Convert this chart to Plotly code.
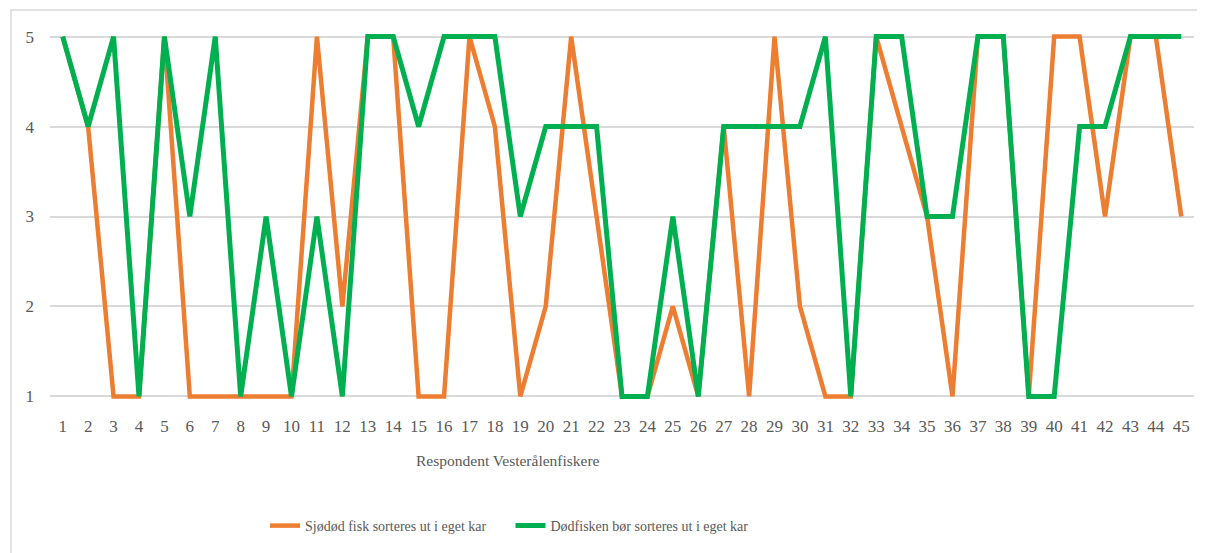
import plotly.graph_objects as go

respondents = list(range(1, 46))
sjodod = [5, 4, 1, 1, 5, 1, 1, 1, 1, 1, 5, 2, 5, 5, 1, 1, 5, 4, 1, 2, 5, 3, 1, 1, 2,
          1, 4, 1, 5, 2, 1, 1, 5, 4, 3, 1, 5, 5, 1, 5, 5, 3, 5, 5, 3]
dodfisk = [5, 4, 5, 1, 5, 3, 5, 1, 3, 1, 3, 1, 5, 5, 4, 5, 5, 5, 3, 4, 4, 4, 1, 1, 3,
           1, 4, 4, 4, 4, 5, 1, 5, 5, 3, 3, 5, 5, 1, 1, 4, 4, 5, 5, 5]
yticks = [1, 2, 3, 4, 5]
name_a = "Sjødød fisk sorteres ut i eget kar"
name_b = "Dødfisken bør sorteres ut i eget kar"
x_title = "Respondent Vesterålenfiskere"

FONT = "Liberation Serif, Times New Roman, serif"
GRAY = "#595959"

# figure is 1197x545 because the page body adds an 8px margin
W, H = 1197, 545
L, T, PW, PH = 42, 25, 1144, 367
R = W - L - PW
B = H - T - PH


def px(xp):
    return (xp - 8 - L) / PW


def py(yp):
    return (T + PH - (yp - 8)) / PH


fig = go.Figure()
fig.add_trace(go.Scatter(x=respondents, y=sjodod, mode="lines", name=name_a,
                         line=dict(color="#ED7D31", width=4.5), legend="legend"))
fig.add_trace(go.Scatter(x=respondents, y=dodfisk, mode="lines", name=name_b,
                         line=dict(color="#00B050", width=5), legend="legend2"))

legend_common = dict(orientation="h", xanchor="left", yanchor="middle",
                     font=dict(family=FONT, size=14, color=GRAY),
                     bgcolor="rgba(0,0,0,0)")

fig.update_layout(
    width=W, height=H,
    margin=dict(l=L, r=R, t=T, b=B),
    paper_bgcolor="white", plot_bgcolor="white",
    font=dict(family=FONT, color=GRAY, size=17),
    showlegend=True,
    legend=dict(x=px(265), y=py(526), **legend_common),
    legend2=dict(x=px(510.5), y=py(526), **legend_common),
    shapes=[dict(type="rect", xref="paper", yref="paper",
                 x0=px(11), x1=px(1400), y0=py(700), y1=py(10),
                 line=dict(color="#d9d9d9", width=1.5), layer="below")],
    annotations=[dict(text=x_title, xref="paper", yref="paper",
                      x=px(508), y=py(460), xanchor="center", yanchor="middle",
                      showarrow=False,
                      font=dict(size=15.5, family=FONT, color=GRAY))],
)
fig.update_xaxes(range=[0.5, 45.5], tickmode="array", tickvals=respondents,
                 ticktext=[str(v) for v in respondents], showgrid=False,
                 zeroline=False, showline=False, ticks="", ticklabelstandoff=14,
                 tickfont=dict(size=17, family=FONT, color=GRAY))
fig.update_yaxes(range=[0.96, 5.04], tickmode="array", tickvals=yticks,
                 ticktext=[str(v) for v in yticks], showgrid=True,
                 gridcolor="#d9d9d9", gridwidth=1.5, zeroline=False, showline=False,
                 ticks="", ticklabelstandoff=15,
                 tickfont=dict(size=17, family=FONT, color=GRAY))

fig.write_html("out.html")
